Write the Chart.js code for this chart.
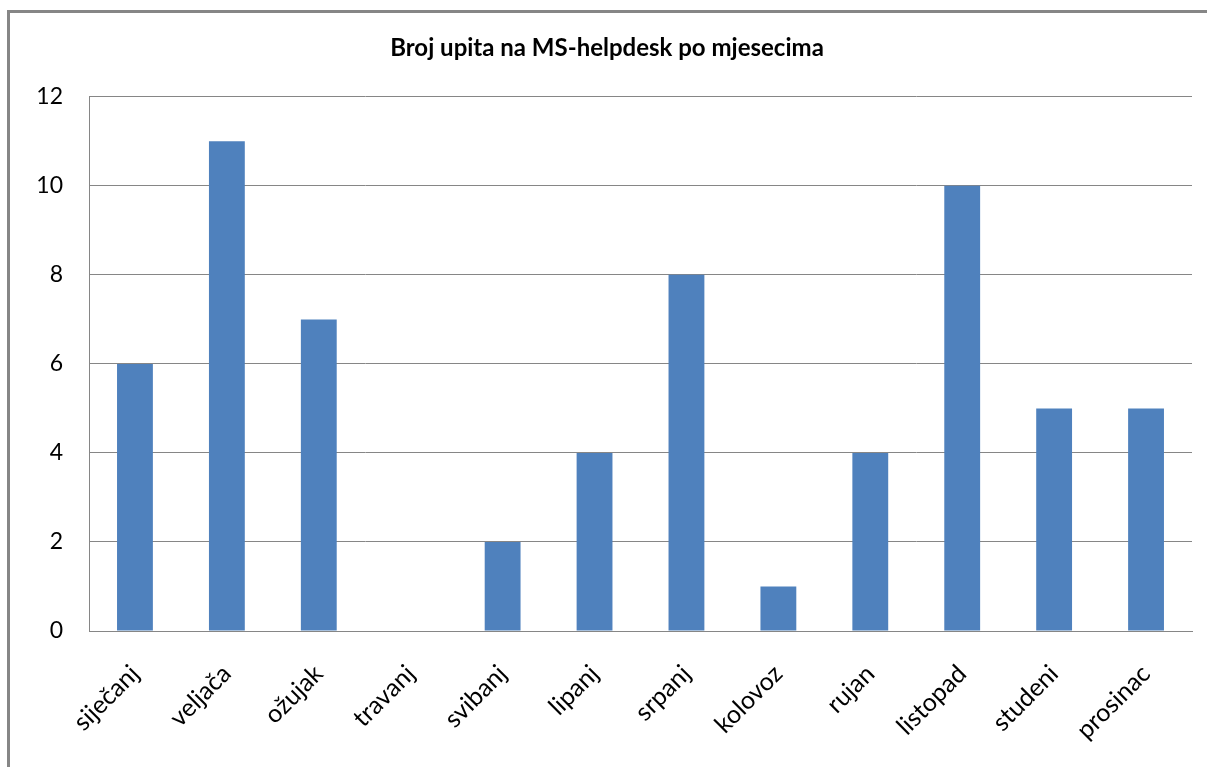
<!DOCTYPE html>
<html>
<head>
<meta charset="utf-8">
<script src="https://cdn.jsdelivr.net/npm/chart.js@4"></script>
<style>
  html, body { margin: 0; padding: 0; background: #fff; overflow: hidden; }
  #frame { position: absolute; left: 7px; top: 10px; width: 1230px; height: 800px; border: 3px solid #868686; box-sizing: border-box; }
  #wrap { position: absolute; left: 0; top: 0; width: 1207px; height: 767px; }
</style>
</head>
<body>
<div id="frame"></div>
<div id="wrap"><canvas id="chart" width="1207" height="767"></canvas></div>
<script>
let months = ['siječanj', 'veljača', 'ožujak', 'travanj', 'svibanj', 'lipanj', 'srpanj', 'kolovoz', 'rujan', 'listopad', 'studeni', 'prosinac'];
let upiti = [6, 11, 7, 0, 2, 4, 8, 1, 4, 10, 5, 5];
let yMin = 0, yMax = 12, yStep = 2;

let font = 'Lato, "Liberation Sans", sans-serif';

let ctx = document.getElementById('chart').getContext('2d');
let chart = new Chart(ctx, {
    type: 'bar',
    data: {
        labels: months,
        datasets: [{
            label: 'Broj upita',
            data: upiti,
            backgroundColor: '#4F81BD',
            borderWidth: 0,
            categoryPercentage: 1,
            barPercentage: 0.39
        }]
    },
    options: {
        responsive: false,
        animation: false,
        layout: { padding: { left: 22, right: 15, top: 0, bottom: 0 } },
        plugins: {
            legend: { display: false },
            tooltip: { enabled: false },
            title: {
                display: true,
                text: 'Broj upita na MS-helpdesk po mjesecima',
                color: '#000',
                font: { family: font, size: 24, weight: 'bold', lineHeight: 1.2 },
                padding: { top: 34, bottom: 34 }
            }
        },
        scales: {
            x: {
                grid: { display: false, drawTicks: false },
                border: { display: true, color: '#868686', width: 1 },
                ticks: {
                    color: '#000',
                    font: { family: font, size: 25 },
                    minRotation: 45,
                    maxRotation: 45,
                    padding: 28
                },
                afterFit: s => { s.height = 136; }
            },
            y: {
                min: yMin,
                max: yMax,
                grid: { color: '#868686', lineWidth: 1, drawTicks: false },
                border: { display: true, color: '#868686', width: 1 },
                ticks: {
                    stepSize: yStep,
                    color: '#000',
                    font: { family: font, size: 23 },
                    padding: 26
                },
                afterFit: s => { s.width = 67; }
            }
        }
    }
});
</script>
</body>
</html>
